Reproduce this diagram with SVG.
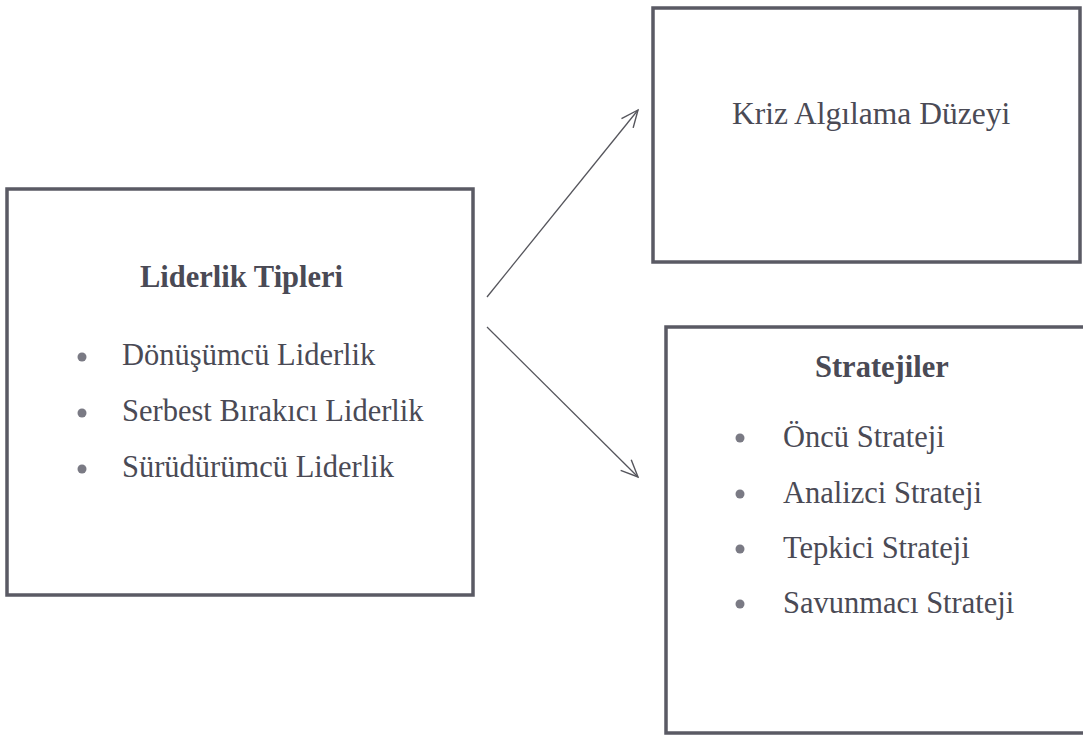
<svg xmlns="http://www.w3.org/2000/svg" width="1083" height="740" viewBox="0 0 1083 740">
<style>
.box{fill:#fff;stroke:#5a5a64;stroke-width:3.5}
.t{font-family:"Liberation Serif","Times New Roman",serif;font-size:30.5px;fill:#4a4a55}
.b{font-weight:bold}
.dot{fill:#7a7a84}
.conn{stroke:#55555c;stroke-width:1.3;fill:none}
</style>
<defs>
<marker id="arr" viewBox="0 0 20 20" refX="18" refY="10" markerWidth="20" markerHeight="20" markerUnits="userSpaceOnUse" orient="auto">
<path d="M1,2.5 L18,10 L1,17.5" fill="none" stroke="#55555c" stroke-width="1.4"/>
</marker>
</defs>
<rect width="1083" height="740" fill="#fff"/>
<g id="liderlik">
<rect class="box" x="7" y="189" width="466" height="406"/>
<text class="t b" x="140" y="287">Liderlik Tipleri</text>
<circle class="dot" cx="82" cy="357" r="4.5"/>
<circle class="dot" cx="82" cy="413" r="4.5"/>
<circle class="dot" cx="82" cy="469" r="4.5"/>
<text class="t" x="122" y="365">Dönüşümcü Liderlik</text>
<text class="t" x="122" y="421">Serbest Bırakıcı Liderlik</text>
<text class="t" x="122" y="477">Sürüdürümcü Liderlik</text>
</g>
<g id="kriz">
<rect class="box" x="653" y="8" width="427" height="254"/>
<text class="t" x="732" y="124" style="font-size:31.5px">Kriz Algılama Düzeyi</text>
</g>
<g id="stratejiler">
<rect class="box" x="666" y="327" width="420" height="406"/>
<text class="t b" x="815" y="377">Stratejiler</text>
<circle class="dot" cx="740" cy="438" r="4.5"/>
<circle class="dot" cx="740" cy="494" r="4.5"/>
<circle class="dot" cx="740" cy="549" r="4.5"/>
<circle class="dot" cx="740" cy="604" r="4.5"/>
<text class="t" x="783" y="447">Öncü Strateji</text>
<text class="t" x="783" y="503">Analizci Strateji</text>
<text class="t" x="783" y="558">Tepkici Strateji</text>
<text class="t" x="783" y="613">Savunmacı Strateji</text>
</g>
<g id="connectors">
<line class="conn" x1="487" y1="297" x2="638" y2="110" marker-end="url(#arr)"/>
<line class="conn" x1="487" y1="327" x2="638" y2="477" marker-end="url(#arr)"/>
</g>
</svg>
